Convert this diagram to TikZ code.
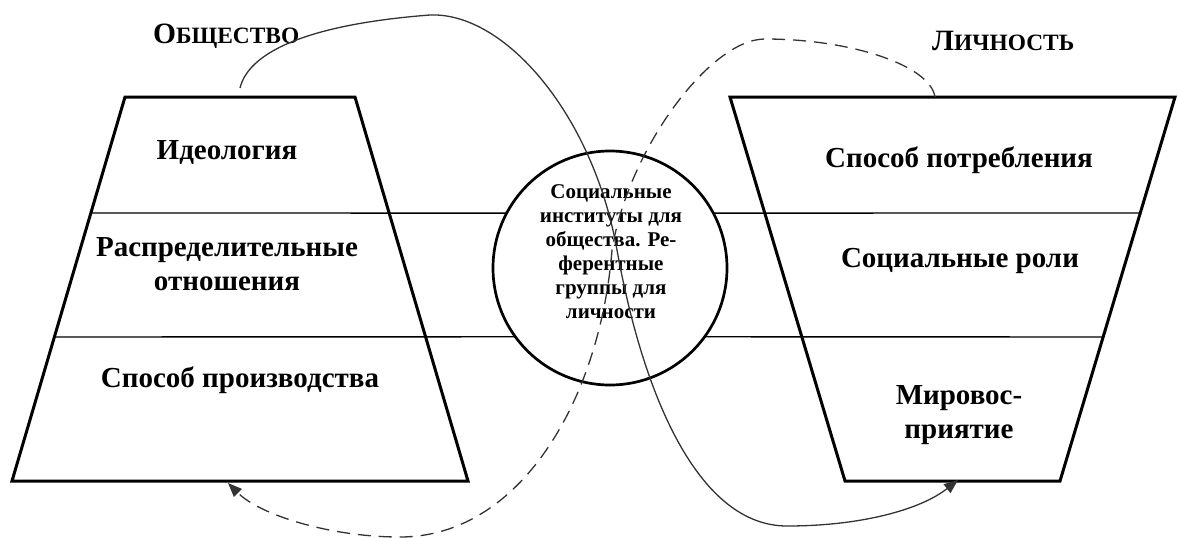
\documentclass[tikz,border=0pt]{standalone}
\usepackage{fontspec}
\setmainfont{Liberation Serif}
\usetikzlibrary{arrows.meta}
\begin{document}
\begin{tikzpicture}[x=1pt,y=-1pt,
  trap/.style={line width=3pt, line join=miter},
  divider/.style={line width=1.4pt},
  lbl/.style={font=\fontsize{29}{33.5}\selectfont\bfseries, align=center, inner sep=0pt},
  inlbl/.style={font=\fontsize{21}{24}\selectfont\bfseries, align=center, inner sep=0pt},
  ttl/.style={inner sep=0pt, anchor=base west},
  flow/.style={line width=1.3pt, draw=black!80, -{Triangle[length=14pt,width=11pt,fill=black!80]}},
  dashflow/.style={flow, dash pattern=on 13pt off 8pt},
]
\useasboundingbox (0,0) rectangle (1178,538);

% trapezoids
\draw[trap] (12,481) -- (125,97) -- (355,97) -- (468,481) -- cycle;
\draw[trap] (730,97) -- (1175,97) -- (1060,481) -- (845,481) -- cycle;

% central circle
\node[draw, circle, line width=2.7pt, minimum size=234pt, inner sep=0pt, outer sep=0pt] (inst) at (610,268) {};
\node[inlbl] (insttxt) at (611,252) {Социальные\\институты для\\общества. Ре-\\ферентные\\группы для\\личности};

% divider end points on trapezoid edges
\coordinate (l1) at (91,213);
\coordinate (l2) at (54,337);
\coordinate (r1) at (1140,213);
\coordinate (r2) at (1103,337);
\draw[divider] (l1) -- (inst.152);
\draw[divider] (l2) -- (inst.216);
\draw[divider] (inst.28) -- (r1);
\draw[divider] (inst.-36) -- (r2);

% labels
\node[lbl, anchor=base] (ideo) at (227,159) {Идеология};
\node[lbl] (raspr) at (227,264) {Распределительные\\отношения};
\node[lbl, anchor=base] (sposprod) at (240,387) {Способ производства};
\node[lbl, anchor=base] (spospotr) at (959,167) {Способ потребления};
\node[lbl, anchor=base] (socrol) at (960,267) {Социальные роли};
\node[lbl] (mirov) at (959,415) {Мировос-\\приятие};

\node[ttl] (obsh) at (153,43) {\bfseries\fontsize{29.5}{30}\selectfont О\fontsize{23.4}{24}\selectfont БЩЕСТВО};
\node[ttl] (lichn) at (932,50) {\bfseries\fontsize{29.5}{30}\selectfont Л\fontsize{23.4}{24}\selectfont ИЧНОСТЬ};

% connectors
\coordinate (sStart) at (240,88);
\coordinate (sEnd) at (958,480);
\coordinate (dStart) at (935,97);
\coordinate (dEnd) at (228,483);

\draw[flow] (sStart) .. controls (248,55) and (300,25) .. (430,15)
  .. controls (505,12) and (593,115) .. (617,250)
  .. controls (644,400) and (700,526) .. (787,526)
  .. controls (860,526) and (920,510) .. (sEnd);

\draw[dashflow] (dStart) .. controls (930,65) and (850,39) .. (765,39)
  .. controls (710,39) and (628,150) .. (612,250)
  .. controls (600,400) and (520,537) .. (400,537)
  .. controls (330,537) and (260,515) .. (dEnd);
\end{tikzpicture}
\end{document}
